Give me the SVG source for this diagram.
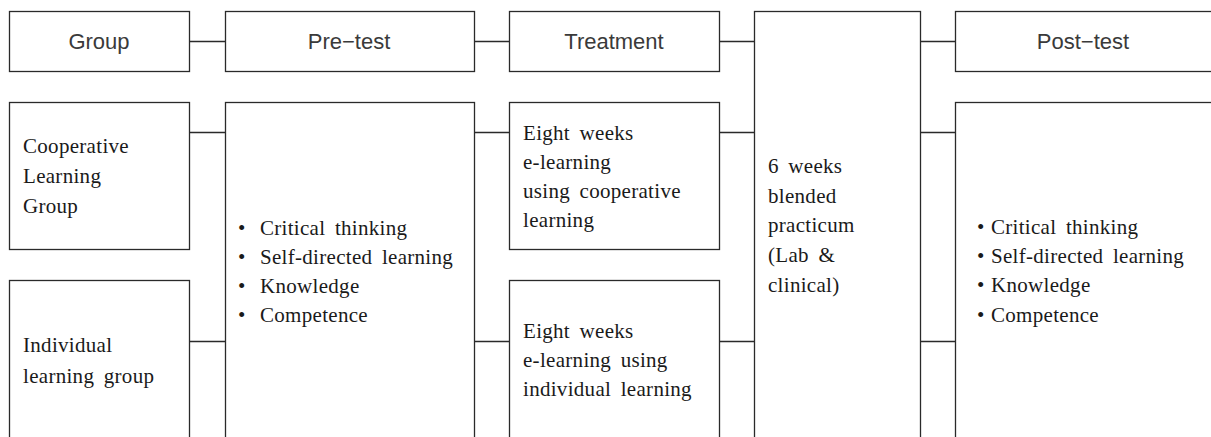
<svg xmlns="http://www.w3.org/2000/svg" width="1211" height="437" viewBox="0 0 1211 437">
<style>
.box{fill:#fff;stroke:#2a2a2a;stroke-width:1.3}
.ln{stroke:#2a2a2a;stroke-width:1.3;fill:none}
.hd{font-family:"Liberation Sans",Arial,sans-serif;font-size:22px;fill:#3a3a3a;text-anchor:middle}
.bd{font-family:"Liberation Serif","Times New Roman",serif;font-size:21px;fill:#1a1a1a;word-spacing:4px;letter-spacing:0.3px}
</style>
<rect width="1211" height="437" fill="#fff"/>
<g id="connectors">
<line class="ln" x1="190" y1="41.5" x2="225" y2="41.5"/>
<line class="ln" x1="474" y1="41.5" x2="509" y2="41.5"/>
<line class="ln" x1="719" y1="41.5" x2="754" y2="41.5"/>
<line class="ln" x1="920" y1="41.5" x2="955" y2="41.5"/>
<line class="ln" x1="190" y1="132.5" x2="225" y2="132.5"/>
<line class="ln" x1="190" y1="341.5" x2="225" y2="341.5"/>
<line class="ln" x1="474" y1="132.5" x2="509" y2="132.5"/>
<line class="ln" x1="474" y1="341.5" x2="509" y2="341.5"/>
<line class="ln" x1="719" y1="132.5" x2="754" y2="132.5"/>
<line class="ln" x1="719" y1="341.5" x2="754" y2="341.5"/>
<line class="ln" x1="920" y1="132.5" x2="955" y2="132.5"/>
<line class="ln" x1="920" y1="341.5" x2="955" y2="341.5"/>
</g>
<g id="group-header">
<rect class="box" x="9.5" y="11.5" width="180" height="60"/>
<text class="hd" x="99" y="49">Group</text>
</g>
<g id="pretest-header">
<rect class="box" x="225.5" y="11.5" width="249" height="60"/>
<text class="hd" x="349" y="49">Pre−test</text>
</g>
<g id="treatment-header">
<rect class="box" x="509.5" y="11.5" width="210" height="60"/>
<text class="hd" x="614" y="49">Treatment</text>
</g>
<g id="practicum">
<rect class="box" x="754.5" y="11.5" width="166" height="440"/>
<text class="bd"><tspan x="768" y="173">6 weeks</tspan><tspan x="768" y="203">blended</tspan><tspan x="768" y="232">practicum</tspan><tspan x="768" y="262">(Lab &amp;</tspan><tspan x="768" y="292">clinical)</tspan></text>
</g>
<g id="posttest-header">
<rect class="box" x="955.5" y="11.5" width="270" height="60"/>
<text class="hd" x="1083" y="49">Post−test</text>
</g>
<g id="cooperative-group">
<rect class="box" x="9.5" y="102.5" width="180" height="147"/>
<text class="bd"><tspan x="23" y="153">Cooperative</tspan><tspan x="23" y="183">Learning</tspan><tspan x="23" y="213">Group</tspan></text>
</g>
<g id="individual-group">
<rect class="box" x="9.5" y="280.5" width="180" height="170"/>
<text class="bd"><tspan x="23" y="352">Individual</tspan><tspan x="23" y="383">learning group</tspan></text>
</g>
<g id="pretest-measures">
<rect class="box" x="225.5" y="102.5" width="249" height="350"/>
<text class="bd"><tspan x="238" y="235">•</tspan><tspan x="260" y="235">Critical thinking</tspan><tspan x="238" y="264">•</tspan><tspan x="260" y="264">Self-directed learning</tspan><tspan x="238" y="293">•</tspan><tspan x="260" y="293">Knowledge</tspan><tspan x="238" y="322">•</tspan><tspan x="260" y="322">Competence</tspan></text>
</g>
<g id="treatment-cooperative">
<rect class="box" x="509.5" y="102.5" width="210" height="147"/>
<text class="bd"><tspan x="523" y="140">Eight weeks</tspan><tspan x="523" y="169">e-learning</tspan><tspan x="523" y="198">using cooperative</tspan><tspan x="523" y="227">learning</tspan></text>
</g>
<g id="treatment-individual">
<rect class="box" x="509.5" y="280.5" width="210" height="170"/>
<text class="bd"><tspan x="523" y="338">Eight weeks</tspan><tspan x="523" y="367">e-learning using</tspan><tspan x="523" y="396">individual learning</tspan></text>
</g>
<g id="posttest-measures">
<rect class="box" x="955.5" y="102.5" width="270" height="350"/>
<text class="bd"><tspan x="977" y="234">•</tspan><tspan x="991" y="234">Critical thinking</tspan><tspan x="977" y="263">•</tspan><tspan x="991" y="263">Self-directed learning</tspan><tspan x="977" y="292">•</tspan><tspan x="991" y="292">Knowledge</tspan><tspan x="977" y="322">•</tspan><tspan x="991" y="322">Competence</tspan></text>
</g>
</svg>
